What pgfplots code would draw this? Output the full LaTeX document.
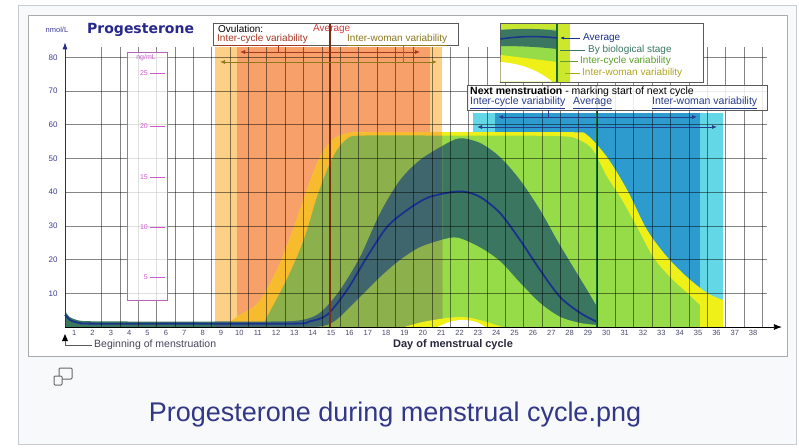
\documentclass[border=0pt]{standalone}
\usepackage{pgfplots}
\usepackage{pgfplotstable}
\pgfplotsset{compat=1.18}
\usetikzlibrary{arrows.meta}
\usepackage{fontspec}
\setmainfont{Liberation Sans}
\newfontfamily\titlefont{DejaVu Sans}
\newcommand\fs[1]{\fontsize{#1}{#1}\selectfont}

\definecolor{capbg}{RGB}{248,249,250}
\definecolor{capborder}{RGB}{200,204,209}
\definecolor{framec}{RGB}{170,170,170}
\definecolor{boxgray}{RGB}{90,90,90}
\definecolor{lorange}{RGB}{252,208,135}
\definecolor{salmon}{RGB}{247,160,105}
\definecolor{cyanb}{RGB}{100,215,230}
\definecolor{blueb}{RGB}{45,155,205}
\definecolor{yel}{RGB}{240,240,25}
\definecolor{lgreen}{RGB}{150,220,72}
\definecolor{dgreen}{RGB}{58,118,96}
\definecolor{yelo}{RGB}{246,188,45}
\definecolor{olivec}{RGB}{140,176,76}
\definecolor{dgreeno}{RGB}{62,102,108}
\definecolor{avgblue}{RGB}{25,50,140}
\definecolor{ovul}{RGB}{120,45,20}
\definecolor{menline}{RGB}{25,105,55}
\definecolor{navytxt}{RGB}{60,60,150}
\definecolor{navytitle}{RGB}{40,40,140}
\definecolor{ticktxt}{RGB}{75,75,110}
\definecolor{pinkm}{RGB}{205,90,205}
\definecolor{capblue}{RGB}{50,55,135}
\definecolor{avgred}{RGB}{210,60,60}
\definecolor{icred}{RGB}{165,55,35}
\definecolor{iwolive}{RGB}{140,120,30}
\definecolor{nmblue}{RGB}{40,60,140}

% inter-woman variability (upper envelope)
\pgfplotstableread{
x y
9.1 0
9.87 3.0
11.02 7.1
12.05 16.9
12.93 28.8
13.69 40.7
14.4 50.4
15.1 55.6
15.9 57.5
17.0 57.8
21.05 57.8
24.0 57.8
28.2 57.8
28.95 57.0
30.04 50.4
31.13 40.7
32.22 28.8
33.31 20.8
34.4 14.8
35.49 10.1
36.36 8.0
}\yellowup
% inter-cycle variability (upper envelope)
\pgfplotstableread{
x y
11.24 0
11.51 3.0
12.38 11.9
13.14 20.8
13.69 28.8
14.23 38.6
14.78 46.6
15.32 52.5
15.87 55.8
16.6 56.8
21.05 56.8
24.0 56.8
27.64 56.6
28.57 55.4
29.27 52.5
30.04 44.5
30.75 38.6
31.67 29.7
32.54 20.8
33.47 14.8
34.4 10.1
35.1 6.5
}\greenup
% by biological stage (upper / lower)
\pgfplotstableread{
x y
0.5 4.8
0.75 3.0
1.2 2.0
2.0 1.7
6.0 1.6
8.65 1.6
10.5 1.6
13.0 1.8
14.0 3.0
14.6 5.2
15.49 11.0
16.58 20.8
17.67 33.8
18.76 43.6
19.85 49.6
21.05 53.7
22.0 56.0
23.12 54.6
24.21 50.4
25.30 43.6
26.39 34.7
27.31 25.8
28.19 17.8
28.95 11.0
29.49 6.0
}\darkup
\pgfplotstableread{
x y
0.5 0
8.65 0
13.5 0
14.3 0.1
14.9 0.8
15.49 3.0
16.58 8.9
17.67 14.8
18.76 19.9
19.85 23.7
21.05 25.9
21.9 26.5
23.12 23.6
24.21 19.5
25.30 13.1
26.39 7.1
27.48 3.0
28.57 1.2
29.49 0.6
}\darklow
% average
\pgfplotstableread{
x y
0.5 3.6
0.8 2.0
1.3 1.2
2.0 1.0
7.0 1.0
13.0 1.0
13.8 1.6
14.78 3.6
15.87 11.0
16.96 20.8
18.05 29.7
19.14 34.7
20.23 38.3
21.32 39.8
22.2 40.2
23.12 38.6
24.21 33.8
25.30 25.8
26.39 16.9
27.48 8.9
28.57 4.2
29.49 1.5
}\average

\begin{document}
\begin{tikzpicture}[x=1pt,y=1pt]
\path[use as bounding box] (0,0) rectangle (799,-447);
\fill[white] (0,0) rectangle (799,-447);
\filldraw[fill=capbg, draw=capborder, line width=1pt] (18.5,-5.5) rectangle (796.5,-444.5);
\filldraw[fill=white, draw=framec, line width=0.8pt] (28,-15) rectangle (787,-356);

% Ovulation box (behind the axis so the average line crosses it)
\filldraw[fill=white, draw=boxgray, line width=0.6pt] (213,-23) rectangle (458,-45);
\node[anchor=west, inner sep=0, font=\fs{10}] at (218,-29) {Ovulation:};
\node[anchor=west, inner sep=0, font=\fs{10}, text=avgred] at (313,-29) {Average};
\node[anchor=west, inner sep=0, font=\fs{10}, text=icred] at (217,-40) {\underline{Inter-cycle variability}};
\node[anchor=west, inner sep=0, font=\fs{10}, text=iwolive] at (347,-40) {\underline{Inter-woman variability}};

\begin{axis}[
  at={(65pt,-327pt)}, anchor=south west,
  scale only axis, width=701.9pt, height=279.7pt,
  xmin=0.5, xmax=38.75, ymin=0, ymax=83,
  enlargelimits=false, clip=false, axis on top,
  axis lines=left,
  x axis line style={black, line width=0.8pt, -{Latex[length=8pt,width=6pt]}, shorten >=-15pt},
  y axis line style={navytitle, line width=0.8pt, -{Latex[length=7pt,width=5pt]}, shorten >=-5pt},
  xtick={1,...,38}, minor xtick={2.5,3.5,...,38.5},
  ytick={10,20,...,80},
  major tick length=0pt, minor tick length=0pt,
  xmajorgrids=false, xminorgrids=true, ymajorgrids=true,
  major grid style={black, opacity=0.48, line width=0.8pt},
  minor grid style={black, opacity=0.48, line width=0.8pt},
  /pgf/number format/assume math mode=true,
  xticklabel style={font=\fs{7.5}, text=ticktxt},
  yticklabel style={font=\fs{8}, text=navytxt, xshift=-4pt},
]
% ovulation bands
\addplot[fill=lorange, draw=none] coordinates {(8.65,83) (21.05,83)} \closedcycle;
\addplot[fill=salmon, draw=none] coordinates {(9.87,83) (20.39,83)} \closedcycle;
% next menstruation bands
\addplot[fill=cyanb, draw=none] coordinates {(22.74,63.5) (36.36,63.5)} \closedcycle;
\addplot[fill=blueb, draw=none] coordinates {(23.94,63.5) (35.1,63.5)} \closedcycle;
% inter-woman and inter-cycle variability, by biological stage
\addplot[fill=yel, draw=none, smooth] table {\yellowup} \closedcycle;
\addplot[fill=lgreen, draw=none, smooth] table {\greenup} \closedcycle;
\addplot[fill=dgreen, draw=none, smooth] table {\darkup} \closedcycle;
\addplot[fill=lgreen, draw=none, smooth] table {\darklow} \closedcycle;
% same areas where they overlap the ovulation window
\addplot[fill=yelo, draw=none, smooth, restrict x to domain=8.6:21.1] table {\yellowup} \closedcycle;
\addplot[fill=olivec, draw=none, smooth, restrict x to domain=8.6:21.1] table {\greenup} \closedcycle;
\addplot[fill=dgreeno, draw=none, smooth, restrict x to domain=8.6:21.1] table {\darkup} \closedcycle;
\addplot[fill=olivec, draw=none, smooth, restrict x to domain=8.6:21.1] table {\darklow} \closedcycle;
% low envelopes near the axis
\addplot[fill=yel, draw=none, smooth] coordinates {(19.0,0) (20.0,1.5) (21.5,2.8) (22.5,2.8) (23.6,1.3) (24.3,0)} \closedcycle;
\addplot[fill=white, draw=none, smooth] coordinates {(20.8,0) (21.5,1.6) (22.2,2.1) (22.9,1.5) (23.4,0)} \closedcycle;
% average
\addplot[avgblue, line width=1.8pt, smooth] table {\average};
% average ovulation and next menstruation
\addplot[ovul, line width=1.3pt] coordinates {(14.94,0) (14.94,90)};
\addplot[menline, line width=2.2pt] coordinates {(29.49,0) (29.49,70)};
\end{axis}

% ovulation arrows
\draw[{Latex[length=5pt,width=4pt]}-{Latex[length=5pt,width=4pt]}, icred, line width=0.8pt] (240,-52) -- (420,-52);
\draw[icred, line width=0.7pt] (278,-45) -- (278,-52);
\draw[{Latex[length=5pt,width=4pt]}-{Latex[length=5pt,width=4pt]}, iwolive, line width=0.8pt] (220,-62) -- (437,-62);
\draw[iwolive, line width=0.7pt] (403,-45) -- (403,-62);

% next menstruation
\filldraw[fill=white, fill opacity=0.85, draw=boxgray, line width=0.6pt] (467,-85) rectangle (767,-110);
\node[anchor=west, inner sep=0, font=\fs{10.5}] at (470,-91.5) {\textbf{Next menstruation} - marking start of next cycle};
\node[anchor=west, inner sep=0, font=\fs{10.5}, text=nmblue] at (470,-103) {\underline{Inter-cycle variability}};
\node[anchor=west, inner sep=0, font=\fs{10.5}, text=nmblue] at (573,-103) {\underline{Average}};
\node[anchor=west, inner sep=0, font=\fs{10.5}, text=nmblue] at (652,-103) {\underline{Inter-woman variability}};
\draw[{Latex[length=5pt,width=4pt]}-{Latex[length=5pt,width=4pt]}, nmblue, line width=0.8pt] (498,-117) -- (697,-117);
\draw[nmblue, line width=0.7pt] (548,-110) -- (548,-117);
\draw[{Latex[length=5pt,width=4pt]}-{Latex[length=5pt,width=4pt]}, nmblue, line width=0.8pt] (477,-127) -- (717,-127);

% legend box
\filldraw[fill=white, draw=boxgray, line width=0.6pt] (500,-23) rectangle (703,-82);
\fill[lgreen] (500.5,-23.5) rectangle (570,-81.5);
\fill[yel!55!lgreen] (500.5,-23.5) rectangle (557,-29);
\fill[yel] (500.5,-55) -- (557,-62) -- (570,-64) -- (570,-81.5) -- (500.5,-81.5) -- cycle;
\fill[white] (500.5,-62) .. controls (525,-64) and (540,-72) .. (552,-81.5) -- (500.5,-81.5) -- cycle;
\fill[dgreen] (500.5,-30) .. controls (525,-28) and (545,-29) .. (557,-31) -- (557,-49) .. controls (540,-47) and (520,-46) .. (500.5,-46) -- cycle;
\fill[yel!60!lgreen] (557,-23.5) rectangle (570,-81.5);
\draw[menline, line width=1.2pt] (557,-23.5) -- (557,-81.5);
\draw[avgblue, line width=1.5pt] (500.5,-39) .. controls (520,-36) and (540,-36) .. (557,-38);
\draw[avgblue, line width=0.7pt, -{Latex[length=4pt,width=3pt]}] (580,-38) -- (560,-38);
\draw[dgreen, line width=0.7pt] (560,-50) -- (585,-50);
\draw[lgreen!70!black, line width=0.7pt] (560,-61) -- (578,-61);
\draw[yel!70!black, line width=0.7pt] (565,-73) -- (580,-73);
\node[anchor=west, inner sep=0, font=\fs{10}, text=avgblue] at (583,-38) {Average};
\node[anchor=west, inner sep=0, font=\fs{10}, text=dgreen] at (588,-50) {By biological stage};
\node[anchor=west, inner sep=0, font=\fs{10}, text={rgb,255:red,90;green,160;blue,40}] at (580,-61) {Inter-cycle variability};
\node[anchor=west, inner sep=0, font=\fs{10}, text={rgb,255:red,175;green,165;blue,30}] at (582,-73) {Inter-woman variability};

% ng/mL scale
\filldraw[fill=white, fill opacity=0.75, draw=pinkm!70!gray, line width=0.6pt] (127,-52) rectangle (167,-300);
\node[inner sep=0, font=\fs{7}, text=pinkm] at (146,-58) {ng/mL};
\foreach \n/\yy in {25/73,20/126,15/177,10/227,5/277}{
  \node[anchor=east, inner sep=0, font=\fs{7}, text=pinkm] at (148,-\yy) {\n};
  \draw[pinkm, line width=0.6pt] (150,-\yy) -- (165,-\yy);
}

% titles and labels
\node[anchor=west, inner sep=0, font=\titlefont\bfseries\fs{14}, text=navytitle] at (87,-30) {Progesterone};
\node[inner sep=0, font=\fs{7.5}, text=navytxt] at (57,-30) {nmol/L};
\fill[black] (62,-341) -- (68,-341) -- (65,-334) -- cycle;
\draw[gray!70!black, line width=0.6pt] (65,-341) -- (65,-345) -- (92,-345);
\node[anchor=west, inner sep=0, font=\fs{10.5}, text={rgb,255:red,70;green,70;blue,90}] at (94,-345) {Beginning of menstruation};
\node[inner sep=0, font=\bfseries\fs{11}, text={rgb,255:red,40;green,40;blue,60}] at (453,-345) {Day of menstrual cycle};

% caption
\draw[gray!80!black, line width=1pt, rounded corners=1pt] (59,-368) rectangle (72,-379);
\filldraw[fill=capbg, draw=gray!80!black, line width=1pt, rounded corners=1pt] (54,-376) rectangle (62,-385);
\node[font=\fs{27}, text=capblue, inner sep=0] at (395,-415) {Progesterone during menstrual cycle.png};
\end{tikzpicture}
\end{document}
